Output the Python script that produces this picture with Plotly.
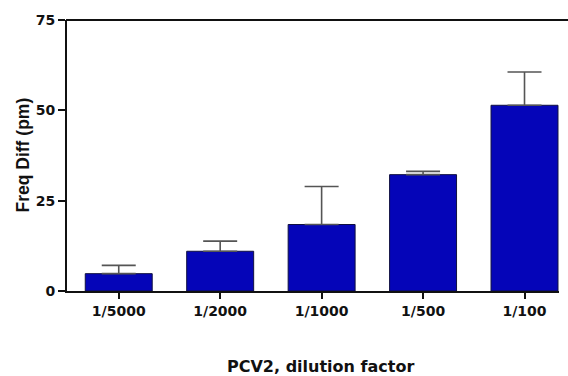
import plotly.graph_objects as go

categories = ["1/5000", "1/2000", "1/1000", "1/500", "1/100"]
means = [4.8, 11.0, 18.4, 32.2, 51.4]
upper = [7.1, 13.8, 28.9, 33.1, 60.6]
err_plus = [u - m for u, m in zip(upper, means)]
y_ticks = [0, 25, 50, 75]

FONT_WIDE = "DejaVu Sans, Verdana, sans-serif"
FONT = "Liberation Sans, Arial, sans-serif"

fig = go.Figure()
fig.add_trace(go.Bar(
    x=list(range(len(categories))),
    y=means,
    width=0.66,
    marker=dict(color="#0505b8", line=dict(color="#101040", width=1)),
    error_y=dict(type="data", array=err_plus, arrayminus=[0] * len(means),
                 symmetric=False, color="#555555", thickness=1.6, width=17),
))

fig.update_layout(
    width=568, height=376,
    margin=dict(l=67, r=9, t=20, b=85),
    paper_bgcolor="white", plot_bgcolor="white",
    showlegend=False,
    font=dict(family=FONT, color="#111111"),
    xaxis=dict(
        range=[-0.51, 4.34],
        tickmode="array", tickvals=list(range(len(categories))), ticktext=categories,
        showline=True, linecolor="#111111", linewidth=2,
        ticks="outside", ticklen=6, tickwidth=2, tickcolor="#111111",
        showgrid=False, zeroline=False,
        tickfont=dict(size=14, family=FONT_WIDE, weight="bold", color="#111111"),
    ),
    yaxis=dict(
        range=[0, 75],
        tickmode="array", tickvals=y_ticks,
        showline=True, linecolor="#111111", linewidth=2,
        ticks="outside", ticklen=7, tickwidth=2, tickcolor="#111111",
        showgrid=False, zeroline=False,
        tickfont=dict(size=14, family=FONT_WIDE, weight="bold", color="#111111"),
    ),
    shapes=[dict(type="line", xref="paper", yref="paper", x0=-0.002, x1=1.02, y0=1, y1=1,
                 line=dict(color="#111111", width=2))],
    annotations=[
        dict(text="PCV2, dilution factor", xref="paper", yref="paper", x=0.516, y=0,
             xanchor="center", yanchor="middle", yshift=-75, showarrow=False,
             font=dict(size=16, family=FONT_WIDE, weight="bold", color="#111111")),
        dict(text="Freq Diff (pm)", xref="paper", yref="paper", x=0, y=0.5,
             xanchor="center", yanchor="middle", xshift=-45, textangle=-90, showarrow=False,
             font=dict(size=17.5, family=FONT, weight="bold", color="#111111")),
    ],
)

fig.write_html("out.html")
